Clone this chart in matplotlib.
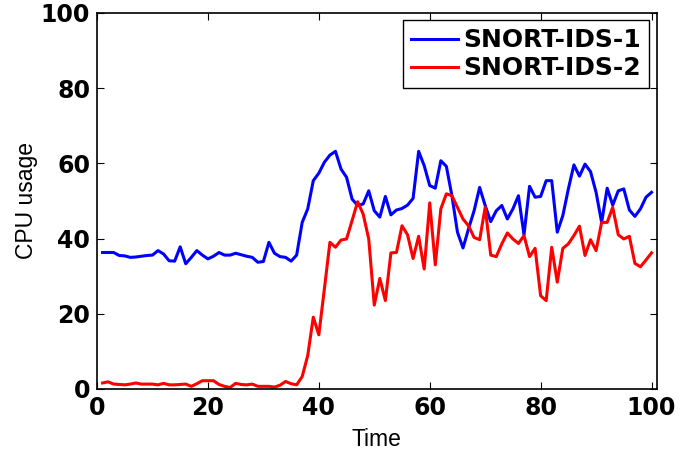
import numpy as np
import matplotlib.pyplot as plt

plt.rcParams['font.family'] = ['Liberation Sans', 'DejaVu Sans']

# time steps
t = np.arange(1, 101)

# CPU usage, SNORT-IDS-1
ids1 = [36.3, 36.3, 36.3, 35.5, 35.4, 35.0, 35.1, 35.3, 35.5, 35.6,
        36.8, 35.9, 34.1, 34.0, 37.8, 33.3, 35.0, 36.8, 35.6, 34.6,
        35.3, 36.3, 35.6, 35.6, 36.1, 35.7, 35.3, 35.0, 33.7, 33.9,
        39.0, 36.1, 35.2, 35.0, 34.0, 35.6, 44.3, 47.9, 55.4, 57.4,
        60.3, 62.2, 63.2, 58.5, 56.3, 50.5, 48.8, 49.2, 52.7, 47.4,
        45.7, 51.2, 46.3, 47.6, 48.0, 48.9, 50.7, 63.2, 59.4, 54.1,
        53.4, 60.7, 59.2, 51.4, 41.7, 37.5, 42.6, 47.4, 53.6, 48.8,
        44.5, 47.4, 48.8, 45.2, 47.9, 51.4, 41.0, 53.9, 51.0, 51.2,
        55.4, 55.4, 41.7, 46.1, 53.2, 59.6, 56.6, 59.8, 57.8, 52.3,
        44.3, 53.4, 48.9, 52.7, 53.2, 47.6, 45.9, 47.9, 51.0, 52.3]

# CPU usage, SNORT-IDS-2
ids2 = [1.6, 1.9, 1.3, 1.2, 1.1, 1.3, 1.6, 1.3, 1.3, 1.3,
        1.1, 1.5, 1.1, 1.1, 1.2, 1.3, 0.7, 1.4, 2.2, 2.2,
        2.2, 1.2, 0.7, 0.4, 1.5, 1.2, 1.1, 1.3, 0.7, 0.7,
        0.7, 0.5, 1.0, 2.0, 1.4, 1.1, 3.3, 8.9, 19.1, 14.4,
        26.6, 39.0, 37.7, 39.6, 39.9, 44.8, 49.8, 46.5, 39.9, 22.3,
        29.4, 23.5, 36.2, 36.3, 43.4, 41.0, 34.7, 40.6, 31.9, 49.5,
        33.0, 47.9, 51.9, 51.4, 48.3, 45.2, 43.4, 40.3, 39.7, 48.3,
        35.6, 35.2, 38.6, 41.5, 39.9, 38.7, 40.8, 35.2, 37.4, 24.8,
        23.5, 37.7, 28.4, 37.4, 38.6, 40.8, 43.3, 35.5, 39.7, 36.8,
        44.3, 44.3, 48.3, 41.0, 39.9, 40.6, 33.4, 32.5, 34.3, 36.2]

ticks = [0, 20, 40, 60, 80, 100]

fig = plt.figure(figsize=(7, 4.5), dpi=100)
ax = fig.add_axes([0.1386, 0.1356, 0.7993, 0.8356])

ax.plot(t, ids1, color='#0000ff', lw=2.2, label='SNORT-IDS-1')
ax.plot(t, ids2, color='#ff0000', lw=2.2, label='SNORT-IDS-2')

ax.set_xlim(0, 100.9)
ax.set_ylim(0, 100)
ax.set_xticks(ticks)
ax.set_yticks(ticks)
ax.tick_params(direction='in', top=True, right=True, length=5, width=0.8,
               labelsize=17, pad=5)
for lab in ax.get_xticklabels() + ax.get_yticklabels():
    lab.set_fontweight('bold')
    lab.set_family('DejaVu Sans')
for s in ax.spines.values():
    s.set_linewidth(1.2)

ax.set_xlabel('Time', fontsize=16.5, labelpad=6)
ax.set_ylabel('CPU usage', fontsize=16.5, labelpad=2)

leg = ax.legend(loc='upper right',
                prop={'family': 'DejaVu Sans', 'size': 18, 'weight': 'bold'},
                fancybox=False, framealpha=1, edgecolor='black',
                handlelength=1.9, borderpad=0.32, labelspacing=0.16,
                handletextpad=0.2, borderaxespad=0.3)
leg.get_frame().set_linewidth(1.0)

fig.savefig('out.png', dpi=100)
